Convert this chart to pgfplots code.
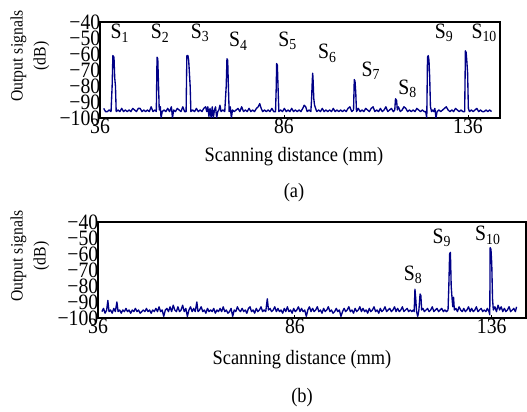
\documentclass[border=0pt]{standalone}
\usepackage{pgfplots}
\pgfplotsset{compat=1.18}
\usepackage{fontspec}
\setmainfont[FakeStretch=0.9]{Liberation Serif}
\definecolor{sig}{RGB}{0,0,135}
\pgfplotsset{
  panel/.style={
    scale only axis, anchor=south west, height=96bp,
    xmin=36, xmax=144.7, ymin=-100, ymax=-40,
    xtick={36,86,136}, xticklabels={36,86,136},
    ytick={-100,-90,-80,-70,-60,-50,-40},
    yticklabels={−100,−90,−80,−70,−60,−50,−40},
    tick label style={font=\fontsize{22}{22}\selectfont},
    xtick pos=bottom, ytick pos=left, tick align=inside,
    major tick length=3bp, ytick style={draw=none},
    xtick style={black, line width=0.8pt},
    axis line style={black, line width=1.2pt},
    yticklabel style={xshift=1.5bp, inner sep=1bp},
    xticklabel style={inner sep=1bp, yshift=0bp},
    clip=true,
  },
  sigline/.style={sig, line width=1.35pt, line join=round, mark=none},
}
\begin{document}
\begin{tikzpicture}
\useasboundingbox (0,0) rectangle (527bp,412bp);
% ---------- panel (a)
\begin{axis}[panel, at={(100bp,294bp)}, width=400bp]
\addplot[sigline] table {
37.0 -94
37.5 -96
38.0 -96
38.5 -95
39.0 -96
39.3 -80
39.5 -61
39.8 -62
40.0 -75
40.2 -80
40.4 -96
40.9 -95
41.4 -96
41.9 -94
42.4 -96
42.9 -95
43.4 -96
43.9 -95
44.4 -96
44.9 -94
45.4 -95
45.9 -96
46.4 -94
46.9 -94
47.4 -96
47.9 -95
48.4 -96
48.9 -95
49.4 -96
49.9 -93
50.4 -96
50.9 -95
51.3 -96
51.5 -62
51.7 -63
51.9 -79
52.1 -95
52.4 -93
52.6 -100
52.9 -96
53.4 -95
53.9 -96
54.4 -94
54.9 -96
55.4 -93
55.7 -100
56.0 -95
56.5 -96
57.0 -94
57.5 -95
58.0 -96
58.5 -93
59.0 -96
59.4 -96
59.6 -61
59.9 -61
60.1 -64
60.3 -72
60.5 -80
60.7 -96
61.2 -95
61.7 -96
62.2 -94
62.7 -96
63.2 -95
63.7 -96
64.2 -94
64.7 -93
65.0 -96
65.3 -93
65.6 -99
65.9 -94
66.2 -100
66.5 -93
66.8 -100
67.1 -95
67.4 -93
67.7 -100
68.0 -96
68.3 -95
68.6 -92
68.9 -96
69.4 -95
69.9 -96
70.3 -80
70.5 -63
70.7 -64
70.9 -81
71.1 -96
71.4 -93
71.7 -100
72.0 -95
72.5 -96
73.0 -95
73.5 -94
74.0 -96
74.5 -93
75.0 -96
75.5 -95
76.0 -96
76.5 -94
77.0 -96
77.5 -95
78.0 -96
78.5 -94
79.0 -93
79.4 -91
79.8 -94
80.2 -96
80.7 -95
81.2 -96
81.7 -95
82.2 -96
82.7 -94
83.2 -96
83.7 -96
83.9 -80
84.0 -66
84.2 -67
84.4 -82
84.6 -96
85.1 -95
85.6 -96
86.1 -94
86.6 -96
87.1 -95
87.6 -96
88.1 -94
88.6 -96
89.1 -95
89.6 -96
90.1 -95
90.6 -96
91.1 -94
91.5 -92
91.9 -93
92.3 -96
92.8 -95
93.3 -96
93.5 -88
93.7 -76
93.8 -72
93.9 -76
94.1 -88
94.3 -92
94.6 -94
94.9 -96
95.4 -95
95.9 -96
96.4 -94
96.9 -96
97.4 -95
97.9 -96
98.4 -95
98.9 -96
99.4 -94
99.9 -96
100.4 -95
100.9 -96
101.4 -95
101.9 -96
102.4 -95
102.9 -96
103.4 -94
103.9 -93
104.4 -96
104.9 -95
105.1 -76
105.3 -77
105.5 -84
105.7 -96
106.2 -94
106.7 -96
107.2 -95
107.7 -96
108.2 -94
108.7 -95
109.2 -96
109.7 -94
110.2 -93
110.7 -96
111.2 -95
111.7 -96
112.2 -94
112.7 -96
113.2 -95
113.7 -93
114.2 -96
114.7 -95
115.2 -94
115.7 -96
116.1 -95
116.3 -88
116.6 -89
116.8 -95
117.1 -93
117.6 -96
118.1 -95
118.6 -93
119.1 -94
119.6 -96
120.1 -95
120.6 -96
121.1 -95
121.6 -96
122.1 -94
122.6 -95
123.1 -96
123.6 -95
124.1 -96
124.5 -96
124.8 -100
125.0 -62
125.2 -61
125.4 -64
125.6 -75
125.8 -93
126.1 -96
126.4 -95
126.7 -96
127.0 -94
127.3 -100
127.6 -96
128.1 -95
128.6 -96
129.1 -95
129.6 -94
130.1 -93
130.6 -95
131.1 -96
131.6 -95
132.1 -96
132.6 -94
133.1 -95
133.6 -96
134.1 -95
134.6 -96
135.1 -96
135.3 -58
135.5 -59
135.7 -65
135.9 -72
136.1 -94
136.4 -96
136.9 -95
137.4 -96
137.9 -95
138.4 -94
138.9 -96
139.4 -95
139.9 -96
140.4 -96
140.9 -95
141.4 -96
141.9 -95
142.4 -96
};
\begin{scope}[font=\fontsize{22}{22}\selectfont]
\node at (axis cs:41.4,-47) {S\textsubscript{1}};
\node at (axis cs:52.3,-47) {S\textsubscript{2}};
\node at (axis cs:63.2,-47) {S\textsubscript{3}};
\node at (axis cs:73.6,-52) {S\textsubscript{4}};
\node at (axis cs:87.0,-51.5) {S\textsubscript{5}};
\node at (axis cs:97.8,-59.6) {S\textsubscript{6}};
\node at (axis cs:109.6,-70.4) {S\textsubscript{7}};
\node at (axis cs:119.6,-81.8) {S\textsubscript{8}};
\node at (axis cs:129.5,-47) {S\textsubscript{9}};
\node at (axis cs:140.4,-47) {S\textsubscript{10}};
\end{scope}
\end{axis}
% ---------- panel (b)
\begin{axis}[panel, at={(98bp,94bp)}, width=428bp]
\addplot[sigline] table {
37.0 -96
37.4 -94
37.8 -97
38.2 -95
38.5 -89
38.8 -96
39.2 -95
39.6 -97
40.0 -94
40.4 -96
40.8 -90
41.1 -96
41.5 -95
41.9 -97
42.3 -95
42.7 -96
43.1 -94
43.5 -96
43.9 -95
44.3 -97
44.7 -95
45.1 -96
45.5 -94
45.9 -96
46.3 -95
46.7 -97
47.1 -96
47.5 -95
47.9 -96
48.3 -94
48.7 -96
49.1 -95
49.5 -97
49.9 -95
50.3 -96
50.7 -94
51.1 -96
51.5 -93
51.9 -96
52.3 -95
52.7 -99
53.1 -95
53.5 -94
53.9 -96
54.3 -93
54.7 -96
55.1 -92
55.5 -95
55.9 -96
56.3 -93
56.7 -96
57.1 -95
57.5 -92
57.9 -96
58.3 -94
58.7 -99
59.1 -95
59.5 -93
59.9 -96
60.3 -94
60.7 -96
61.1 -90
61.4 -96
61.8 -95
62.2 -93
62.6 -96
63.0 -95
63.4 -97
63.8 -94
64.2 -96
64.6 -95
65.0 -96
65.4 -94
65.8 -97
66.2 -95
66.6 -96
67.0 -94
67.4 -96
67.8 -93
68.2 -96
68.6 -95
69.0 -97
69.4 -96
69.8 -94
70.2 -99
70.6 -95
71.0 -96
71.4 -93
71.8 -95
72.2 -96
72.6 -94
73.0 -96
73.4 -95
73.8 -97
74.2 -94
74.6 -93
75.0 -96
75.4 -95
75.8 -97
76.2 -94
76.6 -96
77.0 -95
77.4 -93
77.8 -96
78.2 -95
78.6 -96
79.0 -88
79.3 -95
79.7 -94
80.1 -96
80.5 -95
80.9 -93
81.3 -96
81.7 -94
82.1 -96
82.5 -95
82.9 -97
83.3 -94
83.7 -96
84.1 -93
84.5 -96
84.9 -95
85.3 -97
85.7 -94
86.1 -96
86.5 -95
86.9 -93
87.3 -96
87.7 -94
88.1 -96
88.5 -95
88.9 -99
89.3 -95
89.7 -93
90.1 -96
90.5 -94
90.9 -96
91.3 -95
91.7 -93
92.1 -96
92.5 -95
92.9 -97
93.3 -94
93.7 -96
94.1 -95
94.5 -93
94.9 -96
95.3 -95
95.7 -97
96.1 -96
96.5 -94
96.9 -96
97.3 -95
97.7 -99
98.1 -96
98.5 -94
98.9 -96
99.3 -95
99.7 -93
100.1 -96
100.5 -95
100.9 -97
101.3 -94
101.7 -96
102.1 -95
102.5 -93
102.9 -96
103.3 -94
103.7 -96
104.1 -95
104.5 -97
104.9 -94
105.3 -96
105.7 -95
106.1 -93
106.5 -96
106.9 -95
107.3 -97
107.7 -94
108.1 -96
108.5 -95
108.9 -93
109.3 -96
109.7 -95
110.1 -94
110.5 -96
110.9 -95
111.3 -93
111.7 -96
112.1 -94
112.5 -96
112.9 -95
113.3 -93
113.7 -96
114.1 -95
114.5 -94
114.9 -96
115.3 -95
115.7 -96
116.1 -95
116.3 -96
116.5 -82
116.7 -88
116.9 -96
117.2 -99
117.5 -95
117.8 -85
118.0 -86
118.2 -95
118.5 -94
118.9 -96
119.3 -95
119.7 -94
120.1 -96
120.5 -95
120.9 -93
121.3 -96
121.7 -95
122.1 -94
122.5 -96
122.9 -95
123.3 -94
123.7 -96
124.1 -95
124.5 -96
124.9 -95
125.1 -80
125.3 -60
125.5 -59
125.7 -80
125.9 -87
126.1 -93
126.3 -87
126.5 -95
126.9 -94
127.3 -96
127.7 -93
128.1 -95
128.5 -96
128.9 -94
129.3 -96
129.7 -95
130.1 -93
130.5 -96
130.9 -94
131.3 -96
131.7 -95
132.1 -93
132.5 -96
132.9 -95
133.3 -94
133.7 -96
134.1 -95
134.5 -96
134.9 -94
135.3 -96
135.5 -98
135.6 -56
135.8 -57
136.0 -66
136.2 -88
136.4 -95
136.8 -93
137.2 -96
137.6 -92
138.0 -95
138.4 -93
138.8 -96
139.2 -94
139.6 -96
140.0 -95
140.4 -93
140.8 -96
141.2 -95
141.6 -94
142.0 -96
142.3 -93
};
\begin{scope}[font=\fontsize{22}{22}\selectfont]
\node at (axis cs:116.0,-73) {S\textsubscript{8}};
\node at (axis cs:123.3,-50) {S\textsubscript{9}};
\node at (axis cs:135.0,-48.3) {S\textsubscript{10}};
\end{scope}
\end{axis}
% ---------- labels
\begin{scope}[font=\fontsize{20.5}{20.5}\selectfont]
\node at (294bp,255bp) {Scanning distance (mm)};
\node at (294bp,219bp) {(a)};
\node at (302bp,52bp) {Scanning distance (mm)};
\node at (302bp,14bp) {(b)};
\end{scope}
\begin{scope}[font=\fontsize{17.5}{23}\selectfont]
\node[rotate=90, align=center] at (30bp,356bp) {Output signals\\(dB)};
\node[rotate=90, align=center] at (30bp,156bp) {Output signals\\(dB)};
\end{scope}
\end{tikzpicture}
\end{document}
